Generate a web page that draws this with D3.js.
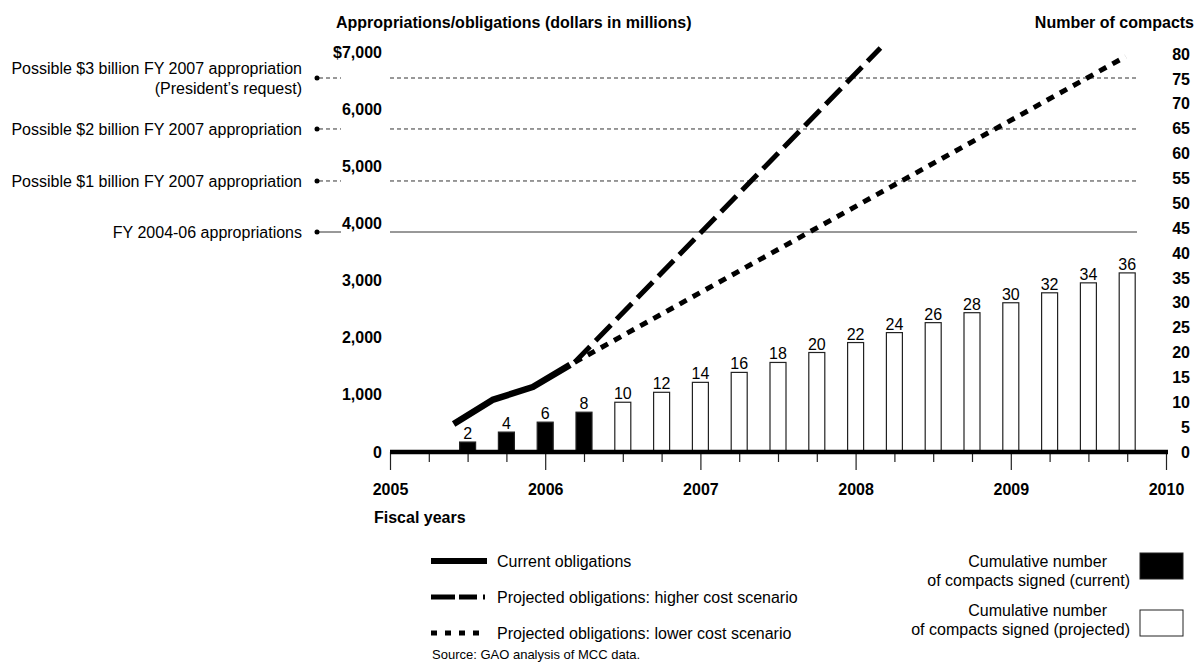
<!DOCTYPE html>
<html>
<head>
<meta charset="utf-8">
<script src="https://cdn.jsdelivr.net/npm/d3@7"></script>
<style>
  body { margin: 0; background: #fff; }
  svg { font-family: "Liberation Sans", Arial, Helvetica, sans-serif; }
  .bold { font-weight: bold; }
</style>
</head>
<body>
<script>
// data
const quarters = [2005.5, 2005.75, 2006, 2006.25, 2006.5, 2006.75, 2007, 2007.25, 2007.5,
                  2007.75, 2008, 2008.25, 2008.5, 2008.75, 2009, 2009.25, 2009.5, 2009.75];
const compacts = [2, 4, 6, 8, 10, 12, 14, 16, 18, 20, 22, 24, 26, 28, 30, 32, 34, 36];
const currentBars = 4; // first bars are signed compacts, the rest projected

const currentYears = [2005.41, 2005.66, 2005.92, 2006.16];
const currentObligations = [490, 911, 1138, 1524];
const higherYears = [2006.19, 2008.16];
const higherObligations = [1570, 7070];
const lowerYears = [2006.19, 2009.74];
const lowerObligations = [1570, 6920];

const refLabels = [
    ["Possible $3 billion FY 2007 appropriation", "(President\u2019s request)"],
    ["Possible $2 billion FY 2007 appropriation"],
    ["Possible $1 billion FY 2007 appropriation"],
    ["FY 2004-06 appropriations"]
];
const refValues = [6545, 5653, 4743, 3850];
const refDashed = [true, true, true, false];

const leftTicks = [0, 1000, 2000, 3000, 4000, 5000, 6000, 7000];
const rightTicks = [0, 5, 10, 15, 20, 25, 30, 35, 40, 45, 50, 55, 60, 65, 70, 75, 80];
const yearTicks = [2005, 2006, 2007, 2008, 2009, 2010];

function init() {
    const w = 1196, h = 664;
    const fs = "16px";

    const svg = d3.select("body").append("svg")
        .attr("width", w)
        .attr("height", h);

    // scales
    const x = d3.scaleLinear().domain([2005, 2010]).range([390, 1166]);
    const yL = d3.scaleLinear().domain([0, 7000]).range([452, 52]);
    const yR = d3.scaleLinear().domain([0, 80]).range([452, 54]);

    // titles
    svg.append("text").attr("class", "bold")
        .attr("x", 336).attr("y", 28)
        .style("font-size", fs)
        .text("Appropriations/obligations (dollars in millions)");
    svg.append("text").attr("class", "bold")
        .attr("x", 1194).attr("y", 28)
        .attr("text-anchor", "end")
        .style("font-size", fs)
        .text("Number of compacts");

    // reference lines for appropriations
    const refs = svg.append("g");
    refValues.forEach((v, i) => {
        const yy = yL(v);
        const dash = refDashed[i] ? "4,3" : null;
        refs.append("line")
            .attr("x1", x(2005)).attr("x2", 1137)
            .attr("y1", yy).attr("y2", yy)
            .attr("stroke", "#333").attr("stroke-width", 1)
            .attr("stroke-dasharray", dash);
        refs.append("line")
            .attr("x1", 319).attr("x2", 341)
            .attr("y1", yy).attr("y2", yy)
            .attr("stroke", "#333").attr("stroke-width", 1)
            .attr("stroke-dasharray", dash);
        refs.append("circle")
            .attr("cx", 317).attr("cy", yy).attr("r", 2.5)
            .attr("fill", "#000");
        const lines = refLabels[i];
        lines.forEach((t, j) => {
            refs.append("text")
                .attr("x", 302)
                .attr("y", yy + 6 + (j - (lines.length - 1) / 2) * 20)
                .attr("text-anchor", "end")
                .style("font-size", fs)
                .text(t);
        });
    });

    // left axis
    const leftAxis = d3.axisLeft(yL)
        .tickValues(leftTicks)
        .tickSize(0)
        .tickPadding(8)
        .tickFormat(d => (d === 7000 ? "$" : "") + d3.format(",")(d));
    svg.append("g")
        .attr("transform", "translate(390,0)")
        .call(leftAxis)
        .call(g => g.select(".domain").remove())
        .selectAll("text")
            .attr("class", "bold")
            .style("font-size", fs)
            .style("font-family", "Liberation Sans, Arial, sans-serif");

    // right axis
    const rightAxis = d3.axisLeft(yR)
        .tickValues(rightTicks)
        .tickSize(0)
        .tickPadding(0);
    svg.append("g")
        .attr("transform", "translate(1190,0)")
        .call(rightAxis)
        .call(g => g.select(".domain").remove())
        .selectAll("text")
            .attr("class", "bold")
            .style("font-size", fs)
            .style("font-family", "Liberation Sans, Arial, sans-serif");

    // bars: cumulative compacts
    const barW = 16;
    svg.selectAll("rect.bar")
        .data(quarters)
        .enter()
        .append("rect")
            .attr("class", "bar")
            .attr("x", d => x(d) - barW / 2)
            .attr("y", (d, i) => yR(compacts[i]))
            .attr("width", barW)
            .attr("height", (d, i) => yR(0) - yR(compacts[i]))
            .attr("fill", (d, i) => i < currentBars ? "#000" : "#fff")
            .attr("stroke", "#222")
            .attr("stroke-width", 1.2);

    svg.selectAll("text.barlabel")
        .data(quarters)
        .enter()
        .append("text")
            .attr("class", "barlabel")
            .attr("x", d => x(d))
            .attr("y", (d, i) => yR(compacts[i]) - 3)
            .attr("text-anchor", "middle")
            .style("font-size", fs)
            .text((d, i) => compacts[i]);

    // x axis: quarterly short ticks, yearly long ticks
    const qTicks = d3.range(2005, 2010.01, 0.25).filter(d => d % 1 !== 0);
    svg.append("g")
        .attr("transform", "translate(0,452)")
        .call(d3.axisBottom(x).tickValues(qTicks).tickSize(10).tickFormat(""))
        .call(g => g.select(".domain").remove())
        .selectAll("line").attr("stroke", "#222").attr("stroke-width", 1.2);

    const yearAxis = svg.append("g")
        .attr("transform", "translate(0,452)")
        .call(d3.axisBottom(x).tickValues(yearTicks).tickSize(18).tickSizeOuter(0).tickFormat(d3.format("d")));
    yearAxis.select(".domain").remove();
    yearAxis.selectAll("line").attr("stroke", "#222").attr("stroke-width", 1.2);
    yearAxis.selectAll("text")
        .attr("y", 32)
        .attr("class", "bold")
        .style("font-size", fs)
        .style("font-family", "Liberation Sans, Arial, sans-serif");

    svg.append("line")
        .attr("x1", x(2005)).attr("x2", x(2010) + 2)
        .attr("y1", 452).attr("y2", 452)
        .attr("stroke", "#000").attr("stroke-width", 4.5);

    svg.append("text").attr("class", "bold")
        .attr("x", 374).attr("y", 523)
        .style("font-size", fs)
        .text("Fiscal years");

    // obligation lines
    const line = d3.line().x(d => x(d[0])).y(d => yL(d[1]));
    svg.append("path")
        .datum(d3.zip(currentYears, currentObligations))
        .attr("d", line)
        .attr("fill", "none").attr("stroke", "#000")
        .attr("stroke-width", 6.5).attr("stroke-linejoin", "round");
    svg.append("path")
        .datum(d3.zip(higherYears, higherObligations))
        .attr("d", line)
        .attr("fill", "none").attr("stroke", "#000")
        .attr("stroke-width", 5).attr("stroke-dasharray", "22,8");
    svg.append("path")
        .datum(d3.zip(lowerYears, lowerObligations))
        .attr("d", line)
        .attr("fill", "none").attr("stroke", "#000")
        .attr("stroke-width", 5).attr("stroke-dasharray", "8,7");

    // legend, left
    const legend = svg.append("g");
    const legendItems = [
        { text: "Current obligations", y: 561, width: 6, dash: null },
        { text: "Projected obligations: higher cost scenario", y: 597, width: 5, dash: "24,4,18,6,2,20" },
        { text: "Projected obligations: lower cost scenario", y: 633, width: 5, dash: "6,8" }
    ];
    legendItems.forEach(it => {
        legend.append("line")
            .attr("x1", 431).attr("x2", 487)
            .attr("y1", it.y).attr("y2", it.y)
            .attr("stroke", "#000").attr("stroke-width", it.width)
            .attr("stroke-dasharray", it.dash);
        legend.append("text")
            .attr("x", 497).attr("y", it.y + 6)
            .style("font-size", fs)
            .text(it.text);
    });
    legend.append("text")
        .attr("x", 432).attr("y", 659)
        .style("font-size", "13px")
        .text("Source: GAO analysis of MCC data.");

    // legend, right
    const boxItems = [
        { lines: ["Cumulative number", "of compacts signed (current)"], y: 553, textY: 567, fill: "#000" },
        { lines: ["Cumulative number", "of compacts signed (projected)"], y: 610, textY: 616, fill: "#fff" }
    ];
    boxItems.forEach(it => {
        legend.append("rect")
            .attr("x", 1140).attr("y", it.y)
            .attr("width", 43).attr("height", 26)
            .attr("fill", it.fill)
            .attr("stroke", "#222").attr("stroke-width", 1);
        it.lines.forEach((t, j) => {
            legend.append("text")
                .attr("x", j === 0 ? 1107 : 1130)
                .attr("y", it.textY + j * 19)
                .attr("text-anchor", "end")
                .style("font-size", fs)
                .text(t);
        });
    });
}

window.onload = init;
</script>
</body>
</html>
